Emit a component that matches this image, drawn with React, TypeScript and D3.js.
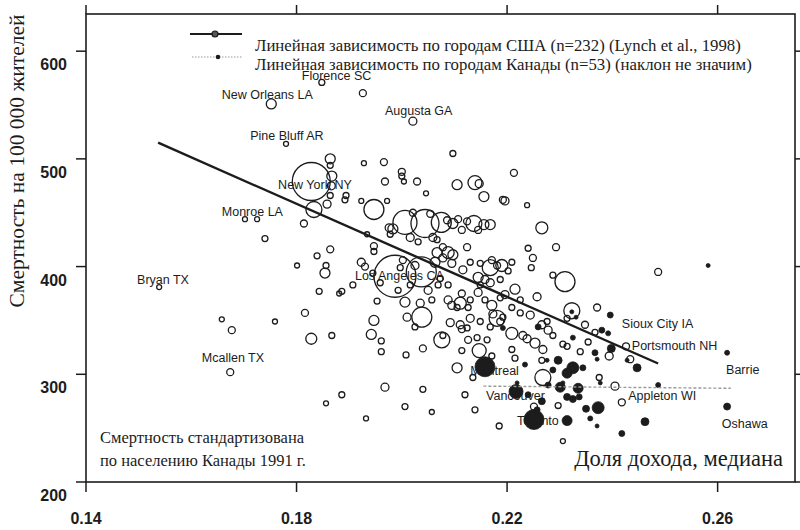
import React from "react";
import * as d3 from "d3";

// [median income share, mortality per 100 000, population (thousands)]
const usCities: [number, number, number][] = [
  [0.1848,571,249],[0.1926,561,339],[0.1752,551,693],[0.2021,535,443],[0.1780,514,173],
  [0.1864,500,693],[0.1864,494,249],[0.1928,496,173],[0.1966,497,339],[0.1828,479,10000],
  [0.1867,484,693],[0.1866,475,443],[0.1864,466,249],[0.1894,466,249],[0.1892,462,249],
  [0.1923,461,173],[0.1972,461,173],[0.1968,479,339],[0.1947,453,2770],[0.1858,458,443],
  [0.1833,453,1773],[0.1814,440,339],[0.1702,444,173],[0.1725,444,173],[0.1740,426,249],
  [0.1976,436,443],[0.1978,430,249],[0.1934,430,173],[0.1864,416,339],[0.1839,410,249],
  [0.1856,401,249],[0.1854,394,693],[0.1801,401,173],[0.1923,404,443],[0.1930,400,339],
  [0.1947,419,339],[0.1947,414,249],[0.1987,391,12216],[0.2037,395,6233],[0.2097,505,249],
  [0.2000,488,339],[0.2000,484,249],[0.2004,479,173],[0.2029,479,339],[0.2046,468,173],
  [0.2105,476,693],[0.2139,478,1357],[0.2147,477,443],[0.2156,465,693],[0.2192,462,339],
  [0.2021,450,339],[0.2054,449,339],[0.2006,441,3989],[0.2044,440,5429],[0.2075,441,2770],
  [0.2086,443,339],[0.2097,440,693],[0.2107,444,339],[0.2114,434,339],[0.2124,442,339],
  [0.2137,440,1773],[0.2145,434,339],[0.2156,439,693],[0.2168,439,693],[0.1983,435,693],
  [0.2016,427,443],[0.2031,423,249],[0.2059,427,443],[0.2067,425,249],[0.2124,418,339],
  [0.2067,413,693],[0.2078,418,339],[0.2088,413,997],[0.2097,411,693],[0.2063,404,693],
  [0.2078,408,443],[0.2095,403,443],[0.2002,406,339],[0.1997,399,249],[0.2168,399,1773],
  [0.2171,406,339],[0.2181,401,339],[0.2145,390,693],[0.2158,388,443],[0.2168,385,443],
  [0.2149,383,249],[0.2069,383,249],[0.2213,487,339],[0.2196,461,443],[0.2238,457,173],
  [0.2266,436,997],[0.2240,417,249],[0.2293,418,339],[0.2249,408,339],[0.2246,399,249],
  [0.2190,401,997],[0.2202,396,249],[0.2287,392,249],[0.2310,386,2770],[0.2215,379,693],
  [0.2487,395,339],[0.2323,359,1773],[0.2371,362,339],[0.2348,346,339],[0.2367,339,249],
  [0.2354,330,249],[0.2314,326,249],[0.2339,321,249],[0.2426,326,339],[0.2394,317,443],
  [0.2434,314,339],[0.2375,297,249],[0.2405,289,443],[0.2418,274,339],[0.2268,297,1773],
  [0.2297,271,249],[0.2251,270,339],[0.2306,238,173],[0.2185,252,249],[0.2105,306,693],
  [0.2147,322,1357],[0.2120,281,249],[0.2006,270,249],[0.2057,265,173],[0.2008,318,249],
  [0.2040,324,339],[0.2040,286,249],[0.2257,372,443],[0.2314,352,249],[0.2192,353,249],
  [0.2209,362,249],[0.2225,357,249],[0.2266,346,443],[0.2278,341,443],[0.2287,336,249],
  [0.2276,349,249],[0.2209,338,997],[0.2230,336,443],[0.2238,333,443],[0.2253,329,693],
  [0.2268,323,443],[0.2306,328,249],[0.2209,323,249],[0.2215,315,249],[0.2266,313,249],
  [0.2006,367,693],[0.2035,366,443],[0.2038,353,2770],[0.2010,353,443],[0.2025,344,249],
  [0.2088,369,443],[0.2095,364,443],[0.2105,362,249],[0.2111,366,997],[0.2114,375,339],
  [0.2126,362,249],[0.2092,348,443],[0.2111,346,443],[0.2114,342,339],[0.2124,343,249],
  [0.2076,332,1773],[0.2078,336,249],[0.2126,332,339],[0.2143,334,249],[0.2114,322,249],
  [0.2171,317,249],[0.2135,297,249],[0.2139,267,249],[0.2181,352,1773],[0.2173,356,443],
  [0.2187,349,339],[0.2168,344,249],[0.2187,371,249],[0.2145,376,443],[0.1843,377,249],
  [0.1886,377,249],[0.1881,375,173],[0.1907,383,249],[0.1953,368,249],[0.1816,357,339],
  [0.1947,350,693],[0.1828,333,838],[0.1867,336,249],[0.1942,337,693],[0.1961,331,249],
  [0.1961,321,249],[0.1968,288,443],[0.1886,281,249],[0.1856,273,173],[0.1932,259,173],
  [0.1539,381,173],[0.1658,351,173],[0.1677,341,339],[0.1759,349,173],[0.1674,302,339],
  [0.1945,394,249],[0.1959,385,249],[0.2016,383,249],[0.2050,378,443],[0.2073,389,249],
  [0.2025,401,443],[0.2088,383,249],[0.2057,369,249],[0.2130,404,249],[0.2116,397,443],
  [0.2187,388,249],[0.2196,374,443],[0.2158,369,249],[0.2171,364,693],[0.2130,369,249],
  [0.2130,352,443],[0.2149,349,249],[0.2162,332,249],[0.2225,369,249],[0.2244,355,443],
  [0.1993,378,249],[0.2149,403,249],[0.2209,404,249],
];

const caCities: [number, number, number][] = [
  [0.2158,307,2770],[0.2217,284,1357],[0.2251,258,2770],[0.2314,257,693],[0.2325,306,997],
  [0.2314,301,693],[0.2297,313,443],[0.2276,313,111],[0.2344,306,249],[0.2301,288,693],
  [0.2335,287,693],[0.2266,275,339],[0.2314,279,339],[0.2325,277,339],[0.2337,279,249],
  [0.2350,268,339],[0.2373,269,997],[0.2371,252,111],[0.2418,245,249],[0.2462,256,443],
  [0.2447,306,443],[0.2398,324,443],[0.2367,320,249],[0.2371,314,111],[0.2380,341,249],
  [0.2392,338,173],[0.2396,355,249],[0.2325,334,173],[0.2487,290,173],[0.2582,401,111],
  [0.2618,320,173],[0.2618,270,339],[0.2259,344,249],[0.2234,309,173],[0.2219,292,111],
  [0.2306,292,111],[0.2377,292,111],[0.2278,290,249],[0.2331,353,111],[0.2428,313,111],
  [0.2192,343,173],[0.2323,358,111],[0.2257,267,249],[0.2358,259,173],[0.2287,304,249],
  [0.2240,281,249],
];

// [label, x, y] text anchor (left, baseline) in data units
const cityLabels: [string, number, number][] = [
  ["Florence SC", 0.1810, 573],
  ["New Orleans LA", 0.1658, 555.5],
  ["Augusta GA", 0.1968, 540.5],
  ["Pine Bluff AR", 0.1712, 517.5],
  ["New York NY", 0.1765, 472],
  ["Monroe LA", 0.1658, 447],
  ["Bryan TX", 0.1497, 384],
  ["Los Angeles CA", 0.1911, 387.5],
  ["Mcallen TX", 0.1620, 311.5],
  ["Sioux City IA", 0.2418, 343],
  ["Portsmouth NH", 0.2437, 322.5],
  ["Barrie", 0.2616, 300],
  ["Montreal", 0.2130, 299],
  ["Vancouver", 0.2160, 276],
  ["Appleton WI", 0.2430, 276],
  ["Toronto", 0.2219, 253],
  ["Oshawa", 0.2608, 250],
];

const usFit: [number, number][] = [[0.1537, 515], [0.2487, 310]];
const caFit: [number, number][] = [[0.2155, 289], [0.2625, 287]];

const xTicks = [0.14, 0.18, 0.22, 0.26];
const yTicks = [200, 300, 400, 500, 600];

const legendLabels = [
  "Линейная зависимость по городам США (n=232) (Lynch et al., 1998)",
  "Линейная зависимость по городам Канады (n=53) (наклон не значим)",
];
const yTitle = "Смертность на 100 000 жителей";
const xTitle = "Доля дохода, медиана";
const noteLines = ["Смертность стандартизована", "по населению Канады 1991 г."];

const W = 800, H = 530;
const L = 86, R = 795, T = 14, B = 482;

export default function App() {
  const x = d3.scaleLinear().domain([0.14, 0.2747]).range([L, R]);
  const y = d3.scaleLinear().domain([200, 634.5]).range([B, T]);
  const r = d3.scaleSqrt().domain([0, 10000]).range([0, 19]);
  const line = d3.line<[number, number]>().x(d => x(d[0])).y(d => y(d[1]));
  const sans = "'Liberation Sans', Arial, sans-serif";
  const serif = "'Liberation Serif', 'Times New Roman', serif";
  const ink = "#1c1c1c";

  return (
    <svg width={W} height={H} style={{ position: "absolute", left: 0, top: 0, background: "#fff" }}>
      <rect x={0} y={0} width={W} height={H} fill="#fff" />
      {/* frame */}
      <rect x={L} y={T} width={R - L} height={B - T} fill="none" stroke={ink} strokeWidth={1.6} />
      {/* ticks */}
      {xTicks.map(t => (
        <g key={"xt" + t}>
          <line x1={x(t)} x2={x(t)} y1={B} y2={B + 10} stroke={ink} strokeWidth={1.5} />
          <line x1={x(t)} x2={x(t)} y1={T} y2={T - 9} stroke={ink} strokeWidth={1.5} />
          <text x={x(t)} y={524} textAnchor="middle" fontFamily={sans} fontWeight="bold" fontSize={16} fill={ink}>
            {d3.format(".2f")(t)}
          </text>
        </g>
      ))}
      {yTicks.map(t => (
        <g key={"yt" + t}>
          <line x1={L - 10} x2={L} y1={y(t)} y2={y(t)} stroke={ink} strokeWidth={1.5} />
          <line x1={R} x2={R + 8} y1={y(t)} y2={y(t)} stroke={ink} strokeWidth={1.5} />
          <text x={67} y={y(t) + 19} textAnchor="end" fontFamily={sans} fontWeight="bold" fontSize={16} fill={ink}>
            {t}
          </text>
        </g>
      ))}
      {/* axis titles */}
      <text transform={`translate(24,${161}) rotate(-90)`} textAnchor="middle" fontFamily={serif} fontSize={21.5} fill={ink}>
        {yTitle}
      </text>
      <text x={783} y={466} textAnchor="end" fontFamily={serif} fontSize={22.5} fill={ink}>{xTitle}</text>
      {noteLines.map((s, i) => (
        <text key={s} x={100} y={443 + i * 23} fontFamily={serif} fontSize={16.5} fill={ink}>{s}</text>
      ))}
      {/* US circles */}
      {usCities.map((d, i) => (
        <circle key={"us" + i} cx={x(d[0])} cy={y(d[1])} r={r(d[2])} fill="none" stroke={ink} strokeWidth={1.3} />
      ))}
      {/* Canadian circles */}
      {caCities.map((d, i) => (
        <circle key={"ca" + i} cx={x(d[0])} cy={y(d[1])} r={r(d[2])} fill={ink} stroke={ink} strokeWidth={0.8} />
      ))}
      {/* fit lines */}
      <path d={line(usFit) || ""} fill="none" stroke={ink} strokeWidth={2.4} />
      <path d={line(caFit) || ""} fill="none" stroke="#9a9a9a" strokeWidth={1.4} strokeDasharray="3,2" />
      {/* labels */}
      {cityLabels.map(([s, lx, ly]) => (
        <text key={s} x={x(lx)} y={y(ly)} fontFamily={sans} fontSize={12.5} fill={ink}>{s}</text>
      ))}
      {/* legend */}
      <line x1={190} x2={242} y1={34} y2={34} stroke={ink} strokeWidth={2.2} />
      <circle cx={215} cy={34} r={3} fill="#555" stroke={ink} strokeWidth={1.2} />
      <line x1={192} x2={242} y1={57} y2={57} stroke="#9a9a9a" strokeWidth={1.2} strokeDasharray="1.5,1.5" />
      <circle cx={218} cy={57} r={2.3} fill={ink} />
      {legendLabels.map((s, i) => (
        <text key={s} x={255} y={51 + i * 19} fontFamily={serif} fontSize={16.8} fill={ink}>{s}</text>
      ))}
    </svg>
  );
}
